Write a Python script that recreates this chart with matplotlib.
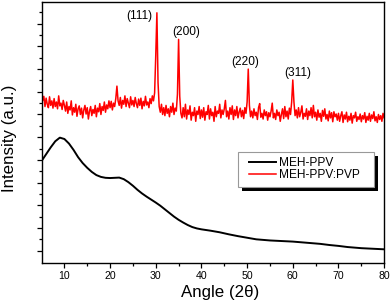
import numpy as np
import matplotlib
matplotlib.use('Agg')
import matplotlib.pyplot as plt
from matplotlib.patches import Rectangle

plt.rcParams['font.family'] = ['Liberation Sans', 'DejaVu Sans']

# MEH-PPV (black)
meh_x = [5, 6, 7, 8, 9, 10, 11, 12, 13, 14, 15, 16, 17, 18, 19, 20, 21, 22,
         23, 24, 25, 26, 27, 28, 29, 30, 31, 32, 33, 34, 35, 36, 37, 38, 39,
         40, 42, 44, 46, 48, 50, 52, 55, 58, 60, 63, 66, 68, 70, 72, 75, 78, 80]
meh_y = [3.95, 4.25, 4.55, 4.82, 4.98, 4.92, 4.72, 4.44, 4.12, 3.86, 3.65,
         3.47, 3.33, 3.25, 3.21, 3.20, 3.21, 3.22, 3.15, 3.02, 2.86, 2.68,
         2.52, 2.38, 2.25, 2.12, 1.98, 1.82, 1.66, 1.50, 1.36, 1.24, 1.13,
         1.04, 0.98, 0.94, 0.88, 0.81, 0.72, 0.64, 0.57, 0.50, 0.45, 0.42,
         0.40, 0.35, 0.30, 0.25, 0.21, 0.16, 0.11, 0.08, 0.06]

# MEH-PPV:PVP (red), sampled every 0.25 deg from 5 to 80
pvp_x = np.arange(5, 80.001, 0.25)
pvp_y = [
    7.00, 6.62, 6.80, 6.35, 6.72, 6.45, 6.30, 6.78, 6.40, 6.60, 6.28, 6.70, 6.35, 6.55, 6.25, 6.82, 6.38, 6.50, 6.22, 6.62,
    6.40, 6.15, 6.55, 6.05, 6.35, 6.20, 6.60, 5.98, 6.30, 6.10, 6.45, 5.92, 6.25, 6.38, 6.00, 6.28, 5.85, 6.20, 6.40, 6.02,
    6.30, 5.80, 6.15, 6.35, 5.95, 6.22, 6.05, 6.40, 5.90, 6.28, 6.12, 6.48, 6.00, 6.35, 6.18, 6.55, 6.10, 6.42, 6.25, 6.60,
    6.30, 6.58, 6.20, 6.50, 6.35, 6.70, 7.25, 6.60, 6.40, 6.75, 6.28, 6.62, 6.45, 6.82, 6.35, 6.70, 6.50, 6.30, 6.78, 6.42,
    6.62, 6.35, 6.75, 6.48, 6.30, 6.68, 6.40, 6.72, 6.25, 6.58, 6.38, 6.80, 6.42, 6.55, 6.30, 6.70, 6.48, 6.82, 6.60, 6.95,
    8.60, 10.48, 7.40, 6.35, 6.10, 6.45, 6.00, 6.30, 5.95, 6.40, 6.05, 6.25, 5.90, 6.35, 6.10, 6.50, 6.00, 6.28, 6.15, 6.90,
    9.31, 6.80, 6.05, 5.85, 6.30, 5.90, 6.45, 5.80, 6.20, 6.00, 6.38, 5.75, 6.10, 5.95, 6.30, 5.70, 6.15, 6.00, 6.35, 5.82,
    6.20, 5.88, 6.30, 5.75, 6.12, 6.00, 6.40, 5.80, 6.25, 5.95, 6.10, 5.70, 6.35, 5.90, 6.15, 6.05, 6.45, 5.85, 6.20, 6.00,
    6.25, 6.62, 5.90, 6.15, 5.80, 6.30, 6.00, 6.38, 5.78, 6.20, 5.95, 6.35, 5.85, 6.10, 6.28, 5.90, 6.18, 5.82, 6.30, 6.05,
    6.55, 8.00, 6.40, 5.90, 6.15, 5.85, 6.25, 5.95, 6.10, 5.78, 6.30, 6.48, 5.88, 6.05, 5.80, 6.20, 5.95, 6.12, 5.75, 6.08,
    5.90, 6.15, 6.50, 5.85, 6.05, 5.78, 6.20, 5.95, 6.10, 5.70, 6.00, 6.25, 5.82, 6.35, 5.90, 6.15, 5.80, 6.28, 6.00, 6.55,
    7.52, 6.55, 5.95, 6.20, 5.85, 6.30, 5.90, 6.10, 6.38, 5.80, 6.05, 5.92, 6.25, 5.78, 6.15, 5.95, 6.30, 5.85, 6.40, 5.90,
    6.10, 5.75, 6.20, 5.88, 6.05, 5.70, 6.18, 5.92, 6.25, 5.80, 6.00, 5.72, 6.15, 5.85, 6.08, 5.68, 6.12, 5.90, 6.02, 5.75,
    6.05, 5.70, 5.95, 6.12, 5.65, 5.98, 5.80, 6.10, 5.68, 5.92, 5.75, 6.05, 5.62, 5.95, 5.85, 6.10, 5.70, 5.90, 5.78, 6.02,
    5.68, 5.95, 5.80, 6.08, 5.65, 5.92, 5.75, 6.05, 5.70, 5.98, 5.82, 6.12, 5.72, 5.90, 5.65, 6.00, 5.78, 5.95, 5.70, 6.05,
    5.85,
]

# peak labels
peak_labels = ['(111)', '(200)', '(220)', '(311)']
peak_lx = [26.4, 36.6, 49.6, 61.0]
peak_ly = [10.34, 9.65, 8.33, 7.84]

fig = plt.figure(figsize=(3.92, 3.06), dpi=100)
ax = fig.add_axes([0.106, 0.1415, 0.874, 0.853])

ax.plot(meh_x, meh_y, color='black', lw=1.4, label='MEH-PPV')
ax.plot(pvp_x, pvp_y, color='#ff0000', lw=1.1, label='MEH-PPV:PVP')

for t, x, y in zip(peak_labels, peak_lx, peak_ly):
    ax.text(x, y, t, fontsize=8.6, ha='center', va='center')

ax.set_xlim(5, 80)
ax.set_ylim(-0.53, 10.97)
ax.set_xticks(range(10, 81, 10))
ax.set_xticks(range(15, 80, 10), minor=True)
ax.set_yticks(range(0, 11))
ax.set_yticks(np.arange(0.5, 10.6, 1.0), minor=True)
ax.set_yticklabels([])
ax.tick_params(which='major', direction='out', length=3.5, width=0.9,
               labelsize=7.6, pad=2.5)
ax.tick_params(which='minor', direction='out', length=2, width=0.9)
for s in ax.spines.values():
    s.set_linewidth(1.0)

fig.text(220 / 392, 1 - 292 / 306, 'Angle (2\u03b8)', fontsize=12.2,
         ha='center', va='center')
fig.text(10 / 392, 1 - 138 / 306, 'Intensity (a.u.)', fontsize=12.2,
         ha='center', va='center', rotation=90)

# legend box with black drop shadow, drawn by hand
bx0, bx1, by0, by1 = 0.5724, 0.970, 0.2889, 0.4253
ax.add_patch(Rectangle((bx0 + 0.0117, by0 - 0.0153), bx1 - bx0, by1 - by0,
                       transform=ax.transAxes, facecolor='black',
                       edgecolor='none', zorder=5, clip_on=False))
ax.add_patch(Rectangle((bx0, by0), bx1 - bx0, by1 - by0,
                       transform=ax.transAxes, facecolor='white',
                       edgecolor='#999999', lw=0.8, zorder=6, clip_on=False))
leg = ax.legend(loc='center left', bbox_to_anchor=(0.6053, 0.358),
                frameon=False, borderaxespad=0, borderpad=0, fontsize=8.6,
                handlelength=2.3, handletextpad=0.25, labelspacing=0.0)
leg.set_zorder(7)

fig.savefig('out.png', dpi=100)
